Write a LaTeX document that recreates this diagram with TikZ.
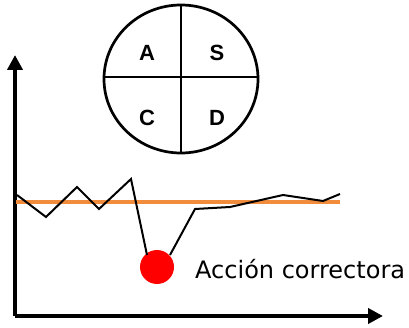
\documentclass[tikz,border=0pt]{standalone}
\usepackage{fontspec}
\setmainfont{Liberation Sans}
\newfontfamily\labfont{DejaVu Sans}
\usetikzlibrary{arrows.meta}
\definecolor{lineorange}{RGB}{240,140,60}
\begin{document}
\begin{tikzpicture}[x=1pt,y=-1pt,
  letter/.style={font=\fontsize{22}{22}\selectfont\bfseries},
  axis/.style={line width=4pt,-{Triangle[width=15pt,length=15pt]}},
  trend/.style={line width=2pt,black,line join=miter},
  target/.style={line width=3.5pt,lineorange}]
\useasboundingbox (0,0) rectangle (409,328);
% PDCA circle
\draw[line width=2.7pt] (181,79) ellipse [x radius=77, y radius=74];
\coordinate (ct) at (181,5);
\coordinate (cb) at (181,153);
\coordinate (cl) at (104,77);
\coordinate (cr) at (258,77);
\draw[line width=2.7pt] (ct) -- (cb);
\draw[line width=2.7pt] (cl) -- (cr);
\node[letter] (A) at (147,53) {A};
\node[letter] (S) at (217,53) {S};
\node[letter] (C) at (147,118) {C};
\node[letter] (D) at (217,118) {D};
% axes
\coordinate (o) at (15,316);
\coordinate (ytip) at (15,55);
\coordinate (xtip) at (383,316);
\draw[axis] (o) -- (ytip);
\draw[axis] (o) -- (xtip);
% target line
\coordinate (t1) at (16,202);
\coordinate (t2) at (340,202);
\draw[target] (t1) -- (t2);
% red dot
\node[circle,fill=red,minimum size=34pt,inner sep=0pt] (dot) at (157,267) {};
% trend line
\draw[trend] (17,195) -- (46,217) -- (77,187) -- (99,209) -- (131,179) -- (147,255);
\draw[trend] (170,255) -- (195,209) -- (230,207) -- (283,195) -- (323,201) -- (340,194);
% label
\node[anchor=base west,inner sep=0pt,font=\labfont\fontsize{24}{24}\selectfont] (lab) at (195,279) {Acción correctora};
\end{tikzpicture}
\end{document}
